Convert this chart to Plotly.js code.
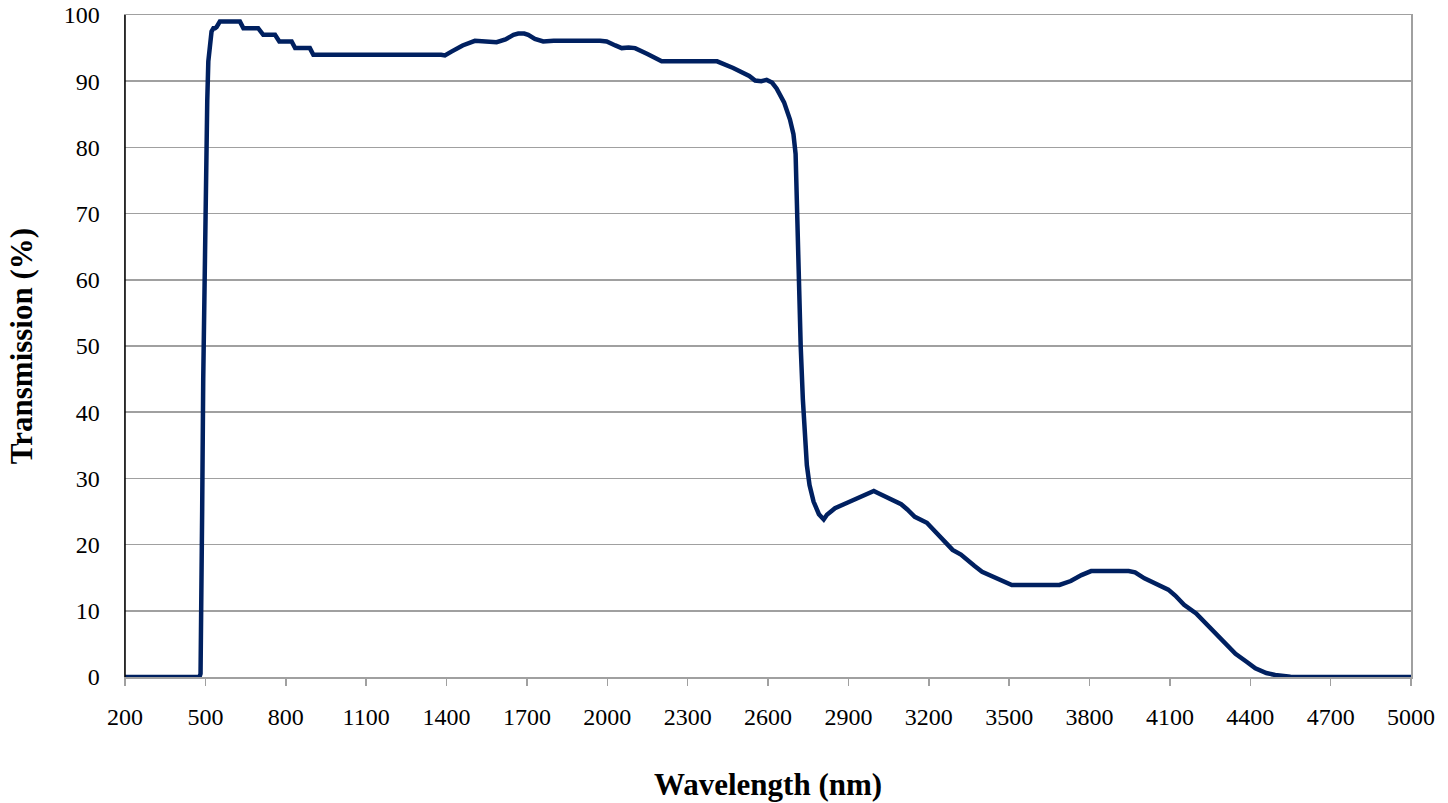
<!DOCTYPE html>
<html>
<head>
<meta charset="utf-8">
<script src="https://cdn.plot.ly/plotly-3.0.1.min.js"></script>
<style>html,body{margin:0;padding:0;background:#fff}#chart{width:1448px;height:803px}</style>
</head>
<body>
<div id="chart"></div>
<script>
const wavelength = [200, 300, 400, 470, 478, 482, 485, 488, 492, 496, 501, 507, 511, 517, 523, 530, 536, 542, 548, 554, 561, 629, 633, 637, 642, 697, 702, 708, 716, 760, 764, 770, 776, 822, 826, 830, 835, 890, 894, 898, 903, 1380, 1394, 1420, 1460, 1506, 1550, 1587, 1620, 1650, 1668, 1690, 1705, 1730, 1761, 1800, 1973, 1998, 2030, 2054, 2080, 2104, 2150, 2203, 2230, 2390, 2410, 2470, 2530, 2552, 2575, 2595, 2615, 2632, 2660, 2682, 2695, 2703, 2708, 2714, 2722, 2730, 2738, 2745, 2755, 2770, 2790, 2808, 2820, 2835, 2850, 2900, 2943, 2980, 2995, 3010, 3052, 3097, 3120, 3148, 3193, 3240, 3289, 3320, 3340, 3370, 3399, 3451, 3490, 3510, 3688, 3730, 3770, 3806, 3946, 3970, 4005, 4050, 4094, 4120, 4153, 4198, 4272, 4345, 4390, 4419, 4460, 4493, 4550, 4611, 5000];
const transmission = [0, 0, 0, 0, 0, 0.5, 8, 25, 45, 60, 72, 87, 93, 96, 97.5, 98, 98, 98.2, 98.8, 99, 99, 99, 98.7, 98.2, 98, 98, 97.7, 97.2, 97, 97, 96.7, 96.2, 96, 96, 95.7, 95.2, 95, 95, 94.7, 94.2, 94, 94, 93.9, 94.5, 95.4, 96.1, 96, 95.9, 96.3, 97, 97.2, 97.2, 97, 96.4, 96, 96.1, 96.1, 96, 95.4, 95, 95.1, 95, 94.1, 93, 93, 93.1, 93, 92, 90.8, 90.1, 90, 90.2, 89.8, 88.9, 86.8, 84.2, 82, 79, 70, 60, 50, 42, 36, 32, 29, 26.5, 24.6, 23.8, 24.5, 25.1, 25.5, 26.4, 27.2, 27.8, 28.1, 27.8, 27, 26.1, 25.3, 24.2, 23.3, 21.2, 19.2, 18.5, 17.9, 16.8, 15.9, 14.9, 14.1, 13.9, 13.9, 14.5, 15.4, 16, 16, 15.8, 14.9, 14, 13.2, 12.3, 10.9, 9.6, 6.6, 3.5, 2.2, 1.3, 0.6, 0.3, 0.05, 0, 0];
const xTicks = [200, 500, 800, 1100, 1400, 1700, 2000, 2300, 2600, 2900, 3200, 3500, 3800, 4100, 4400, 4700, 5000];
const yTicks = [0, 10, 20, 30, 40, 50, 60, 70, 80, 90, 100];
const xTitle = 'Wavelength (nm)';
const yTitle = 'Transmission (%)';

const font = 'Liberation Serif, Times New Roman, serif';
Plotly.newPlot('chart', [{
  x: wavelength, y: transmission, type: 'scatter', mode: 'lines',
  line: {color: '#002060', width: 4.5}, hoverinfo: 'x+y'
}], {
  width: 1448, height: 803,
  margin: {l: 125, r: 37, t: 15, b: 126},
  paper_bgcolor: '#ffffff', plot_bgcolor: '#ffffff',
  showlegend: false,
  font: {family: font, color: '#000', size: 24},
  xaxis: {
    range: [200, 5000], tickvals: xTicks, ticktext: xTicks.map(String),
    showgrid: false, zeroline: false,
    showline: true, linecolor: '#a0a0a0', linewidth: 1.5, mirror: true,
    ticks: 'outside', ticklen: 7, tickcolor: '#a0a0a0', tickwidth: 1.5,
    ticklabelstandoff: 11,
    tickfont: {family: font, size: 24, color: '#000'},
    title: {text: '<b>' + xTitle + '</b>', font: {family: font, size: 31, color: '#000'}, standoff: 44}
  },
  yaxis: {
    range: [0, 100], tickvals: yTicks, ticktext: yTicks.map(String),
    showgrid: true, gridcolor: '#a0a0a0', gridwidth: 1.5, zeroline: false,
    showline: true, linecolor: '#a0a0a0', linewidth: 1.5, mirror: true,
    ticks: '', ticklabelstandoff: 19,
    tickfont: {family: font, size: 24, color: '#000'},
    title: {text: '<b>' + yTitle + '</b>', font: {family: font, size: 31, color: '#000'}, standoff: 22}
  },
  shapes: [{type: 'line', xref: 'paper', yref: 'paper', x0: 0, x1: 0, y0: 0, y1: 1,
            line: {color: '#000', width: 1.5}}]
}, {displayModeBar: false, staticPlot: true});
</script>
</body>
</html>
